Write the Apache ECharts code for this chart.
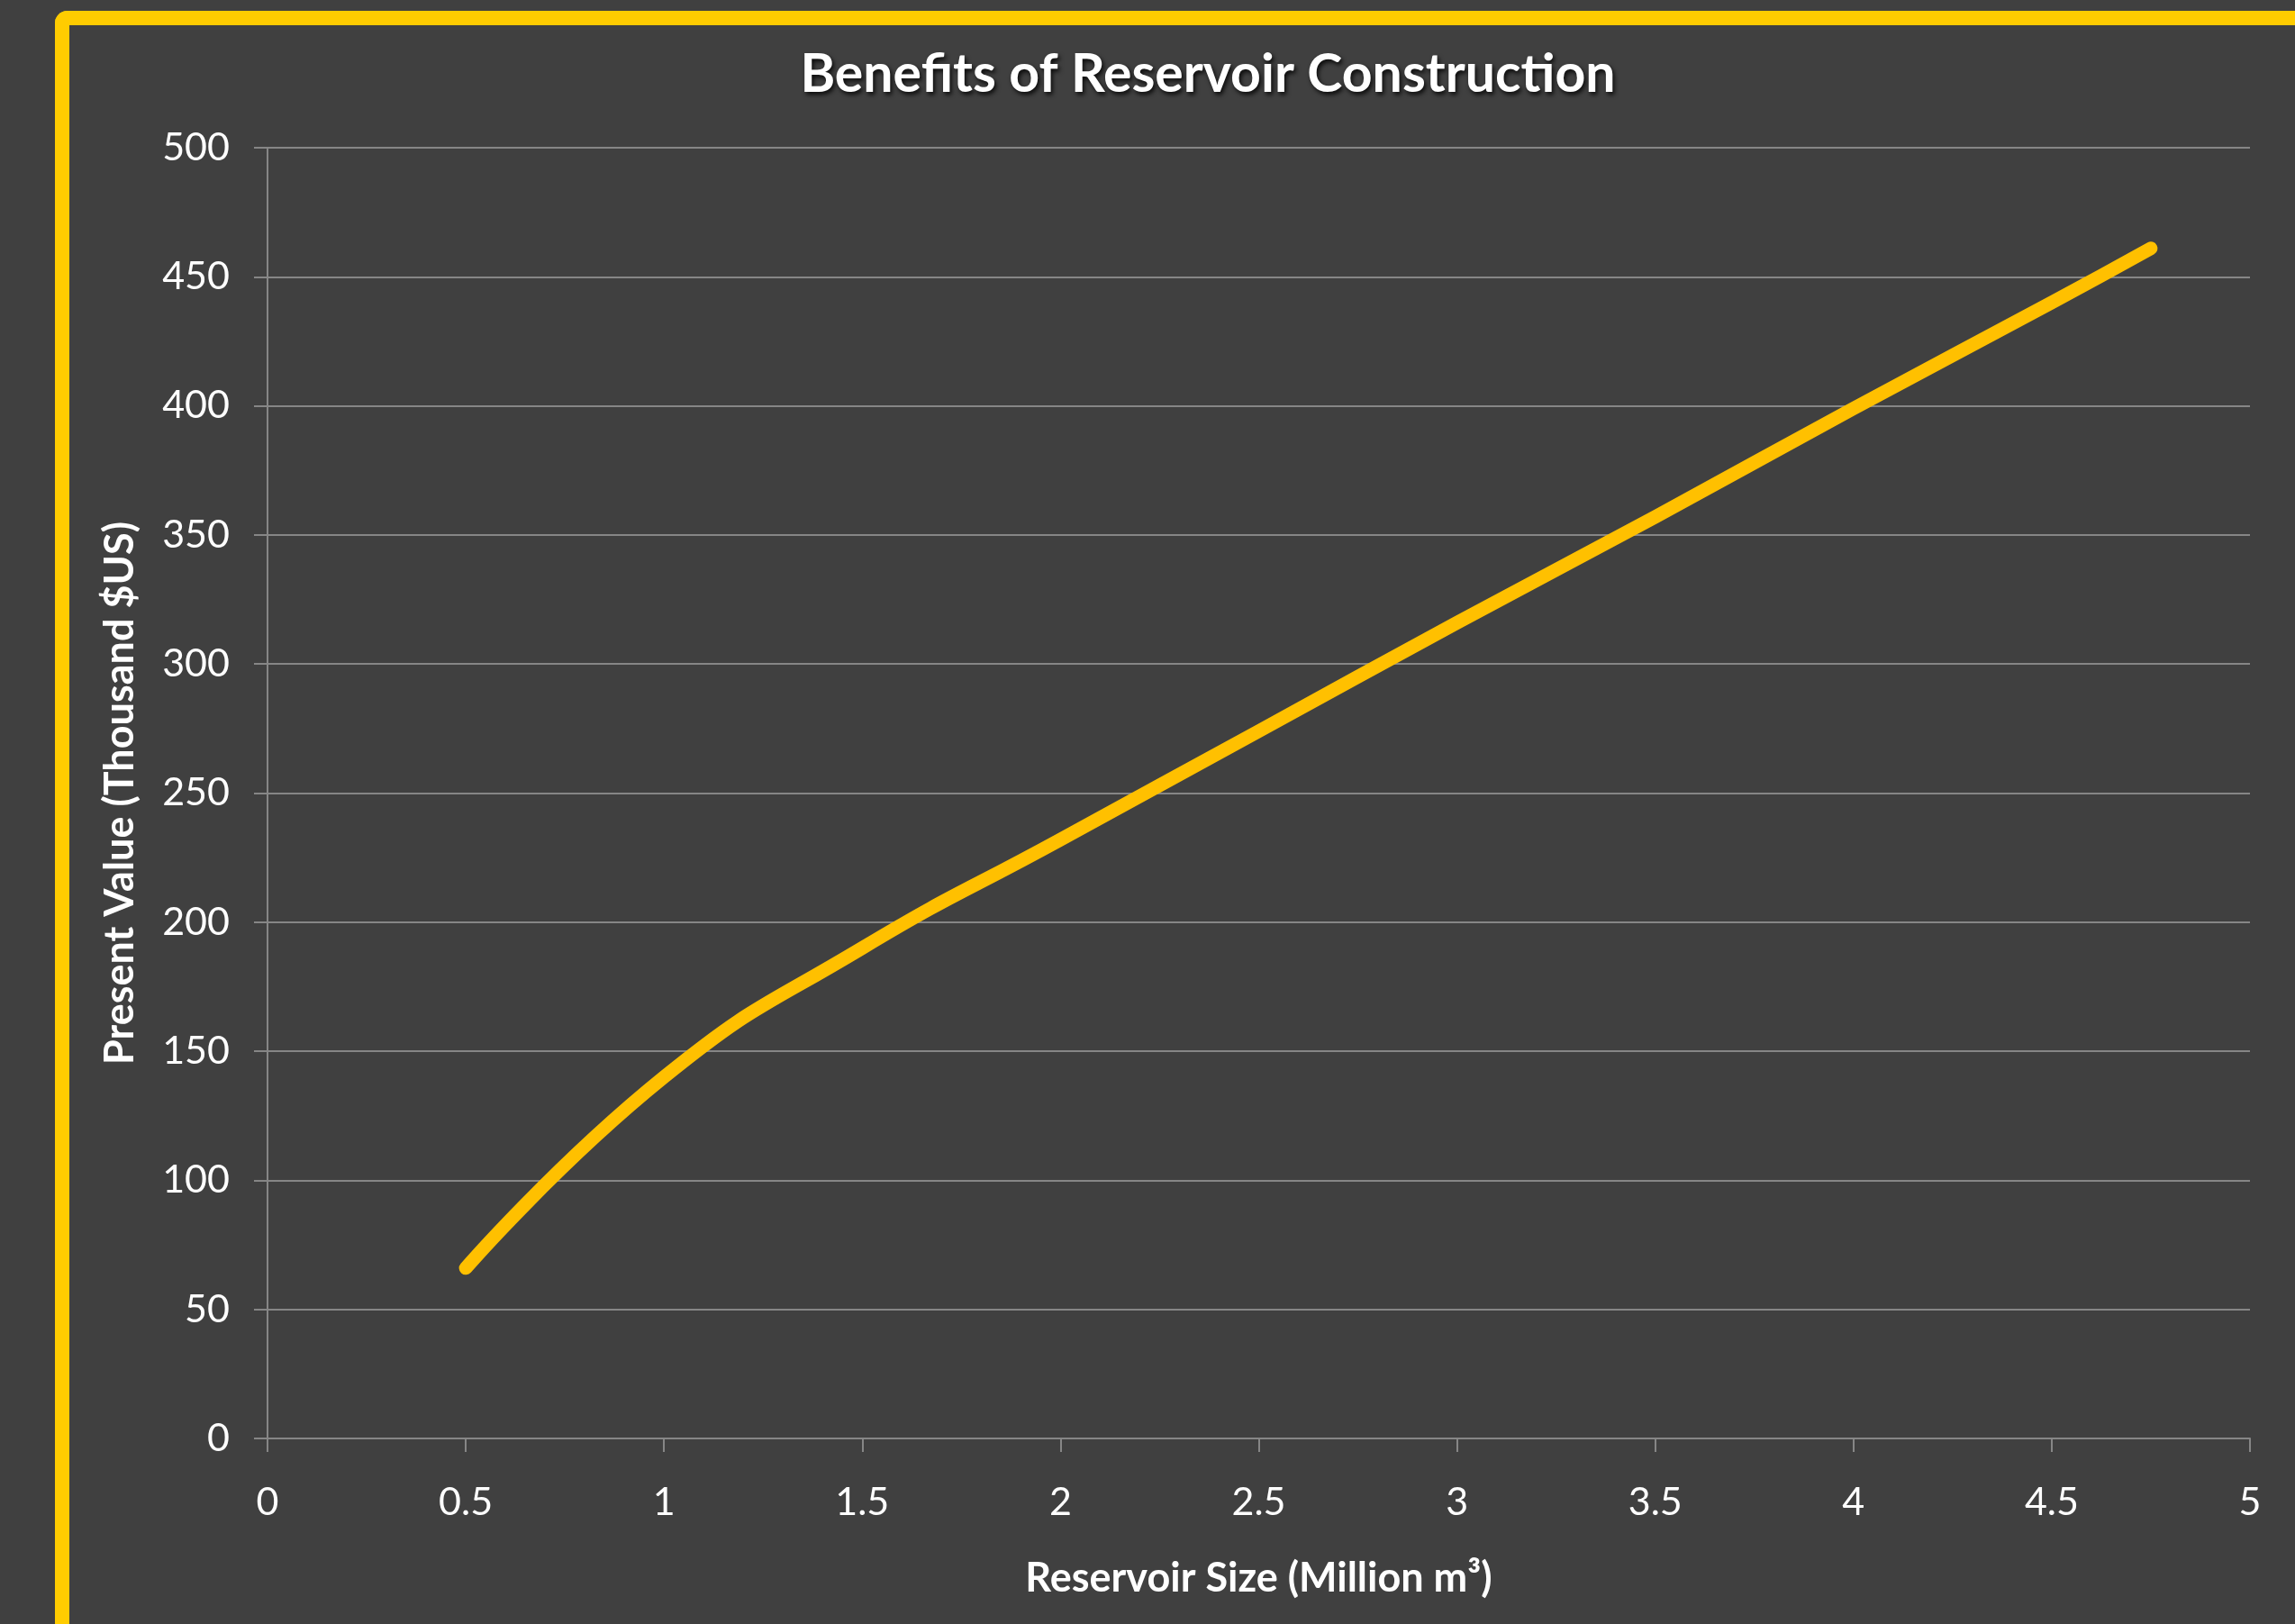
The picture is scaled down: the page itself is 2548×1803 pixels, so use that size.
<!DOCTYPE html>
<html>
<head>
<meta charset="utf-8">
<script src="https://cdn.jsdelivr.net/npm/echarts@6/dist/echarts.min.js"></script>
<style>
  html, body { margin: 0; padding: 0; background: #404040; overflow: hidden; }
  #chart { position: absolute; left: 0; top: 0; width: 2548px; height: 1803px; }
  #frame { position: absolute; left: 61px; top: 12px; width: 3000px; height: 3000px;
           border-left: 16px solid #FFCC00; border-top: 16px solid #FFCC00;
           border-top-left-radius: 14px; box-sizing: border-box; }
</style>
</head>
<body>
<div id="frame"></div>
<div id="chart"></div>
<script>
const titleText = 'Benefits of Reservoir Construction';
const xAxisName = 'Reservoir Size (Million m³)';
const yAxisName = 'Present Value (Thousand $US)';
const reservoirSize = [0.5, 1, 1.5, 2, 2.5, 3, 3.5, 4, 4.5, 4.75];
const presentValue = [66, 140, 190, 232, 274, 316, 357, 399, 440, 461];
const xTicks = [0, 0.5, 1, 1.5, 2, 2.5, 3, 3.5, 4, 4.5, 5];
const yTicks = [0, 50, 100, 150, 200, 250, 300, 350, 400, 450, 500];

const seriesData = reservoirSize.map((x, i) => [x, presentValue[i]]);
const FONT = 'Lato';
const chart = echarts.init(document.getElementById('chart'), null, { renderer: 'canvas' });
chart.setOption({
  backgroundColor: 'transparent',
  animation: false,
  title: {
    text: titleText,
    left: 1341,
    top: 53,
    padding: 0,
    textAlign: 'center',
    textStyle: {
      color: '#FFFFFF', fontFamily: FONT, fontWeight: 'bold', fontSize: 59,
      textShadowColor: 'rgba(0,0,0,0.85)', textShadowBlur: 5,
      textShadowOffsetX: 2, textShadowOffsetY: 3
    }
  },
  grid: { left: 297, right: 50, top: 164, bottom: 206, containLabel: false },
  xAxis: {
    type: 'value',
    min: xTicks[0], max: xTicks[xTicks.length - 1], interval: 0.5,
    name: xAxisName, nameLocation: 'middle', nameGap: 133,
    nameTextStyle: { color: '#FFFFFF', fontFamily: FONT, fontWeight: 'bold', fontSize: 45 },
    axisLine: { show: true, lineStyle: { color: '#868686', width: 2 } },
    axisTick: { show: true, length: 15, lineStyle: { color: '#868686', width: 2 } },
    axisLabel: { color: '#FFFFFF', fontFamily: FONT, fontSize: 43, margin: 50 },
    splitLine: { show: false }
  },
  yAxis: {
    type: 'value',
    min: yTicks[0], max: yTicks[yTicks.length - 1], interval: 50,
    name: yAxisName, nameLocation: 'middle', nameGap: 141,
    nameTextStyle: { color: '#FFFFFF', fontFamily: FONT, fontWeight: 'bold', fontSize: 45 },
    axisLine: { show: true, lineStyle: { color: '#868686', width: 2 } },
    axisTick: { show: true, length: 15, lineStyle: { color: '#868686', width: 2 } },
    axisLabel: { color: '#FFFFFF', fontFamily: FONT, fontSize: 43, margin: 42 },
    splitLine: { show: true, lineStyle: { color: '#868686', width: 2 } }
  },
  series: [{
    type: 'line',
    data: seriesData,
    smooth: 0.5,
    showSymbol: false,
    symbol: 'none',
    lineStyle: { color: '#FFC000', width: 15, cap: 'round', join: 'round' }
  }]
});
</script>
</body>
</html>
